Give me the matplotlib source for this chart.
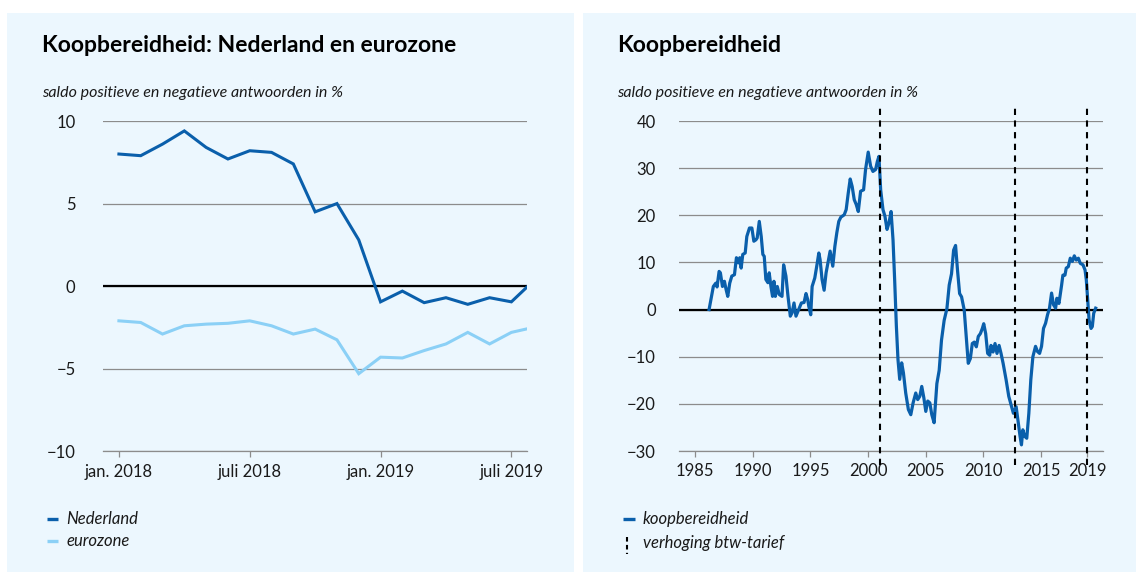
import matplotlib
matplotlib.use('Agg')
import matplotlib.pyplot as plt
from matplotlib.patches import Rectangle
from matplotlib.lines import Line2D

plt.rcParams['font.family'] = ['Lato', 'DejaVu Sans']

W, H = 1136, 572
DARK = '#0a5fab'
LIGHT = '#8bd0f6'
BG = '#ecf7fe'
GRID = '#8c8c8c'
TXT = '#1a1a1a'

# ---------------- data: left chart (monthly, jan 2018 .. aug 2019) ----------------
months = list(range(20))
nederland = [8.0, 7.9, 8.6, 9.4, 8.4, 7.7, 8.2, 8.1, 7.4, 4.5, 5.0, 2.8,
             -0.95, -0.3, -1.0, -0.7, -1.1, -0.7, -0.95, 0.3]
eurozone = [-2.1, -2.2, -2.9, -2.4, -2.3, -2.25, -2.1, -2.4, -2.9, -2.6, -3.25, -5.3,
            -4.3, -4.35, -3.9, -3.5, -2.8, -3.5, -2.8, -2.5]
left_ticks = [0, 6, 12, 18]
left_ticklabels = ['jan. 2018', 'juli 2018', 'jan. 2019', 'juli 2019']
left_yticks = [-10, -5, 0, 5, 10]

# ---------------- data: right chart (koopbereidheid) ----------------
kb_years = [1986.22, 1986.59, 1986.80, 1986.91, 1987.09, 1987.20, 1987.38, 1987.55, 1987.70, 1987.84,
            1988.01, 1988.19, 1988.42, 1988.59, 1988.77, 1988.88, 1989.00, 1989.14, 1989.35, 1989.49,
            1989.72, 1989.93, 1990.10, 1990.28, 1990.39, 1990.57, 1990.74, 1990.88, 1991.00, 1991.14,
            1991.32, 1991.43, 1991.58, 1991.72, 1991.84, 1991.96, 1992.13, 1992.30, 1992.54,
            1992.68, 1992.88, 1993.06, 1993.26, 1993.41, 1993.58, 1993.75, 1993.99, 1994.22, 1994.45,
            1994.62, 1994.77, 1994.86, 1995.03, 1995.15, 1995.38, 1995.55, 1995.73, 1995.84, 1996.01,
            1996.19, 1996.36, 1996.54, 1996.71, 1996.94, 1997.12, 1997.29, 1997.46, 1997.64, 1997.93,
            1998.10, 1998.28, 1998.45, 1998.62, 1998.80, 1998.97,
            1999.15, 1999.35, 1999.61, 1999.78, 2000.01, 2000.22, 2000.42, 2000.65, 2000.80, 2000.94,
            2001.09, 2001.29, 2001.46, 2001.64, 2001.81, 2001.99, 2002.16, 2002.30, 2002.45, 2002.59,
            2002.74, 2002.91, 2003.06, 2003.26, 2003.49, 2003.70, 2003.90, 2004.13, 2004.30, 2004.48,
            2004.65, 2004.83, 2005.00, 2005.17, 2005.35, 2005.52, 2005.72,
            2005.96, 2006.16, 2006.36, 2006.59, 2006.83, 2007.03, 2007.23, 2007.41, 2007.58, 2007.75,
            2007.93, 2008.10, 2008.33, 2008.51, 2008.68, 2008.86, 2009.03, 2009.20, 2009.38, 2009.55,
            2009.73, 2009.90, 2010.02, 2010.19, 2010.36, 2010.54, 2010.65, 2010.83, 2011.00, 2011.17,
            2011.35, 2011.52, 2011.70,
            2011.96, 2012.19, 2012.39, 2012.59, 2012.83, 2013.00, 2013.17, 2013.29, 2013.41, 2013.58,
            2013.75, 2013.93, 2014.10, 2014.28, 2014.51, 2014.68, 2014.86, 2015.03, 2015.20, 2015.38,
            2015.55, 2015.72, 2015.90, 2016.07, 2016.25, 2016.36, 2016.54, 2016.77, 2016.88, 2017.06,
            2017.17, 2017.35, 2017.52, 2017.70, 2017.87, 2018.04, 2018.22, 2018.39, 2018.62, 2018.80,
            2018.91, 2019.03, 2019.15, 2019.32, 2019.43, 2019.55, 2019.72]
kb_values = [0.0, 4.9, 5.6, 4.8, 8.1, 7.8, 4.9, 6.0, 4.2, 2.8,
             5.6, 7.1, 7.4, 11.0, 9.9, 11.0, 8.8, 11.7, 12.0, 15.5,
             17.3, 17.3, 14.5, 14.8, 15.2, 18.7, 15.5, 11.7, 11.3, 6.4,
             5.7, 7.8, 4.9, 2.8, 6.0, 2.8, 4.9, 3.2, 2.8,
             9.5, 7.1, 2.8, -1.4, -0.7, 1.4, -1.4, 0.0, 1.4, 1.5,
             3.4, 2.1, 0.7, -1.1, 4.9, 6.7, 9.2, 12.0, 10.6, 6.4,
             4.1, 7.8, 10.2, 12.4, 9.2, 13.4, 16.3, 18.7, 19.6, 20.1,
             21.2, 24.7, 27.7, 26.1, 23.3, 22.3,
             20.8, 25.1, 25.4, 29.7, 33.4, 30.4, 29.3, 29.7, 31.4, 32.5,
             25.4, 21.2, 19.8, 17.0, 18.4, 20.8, 14.8, 6.4, -3.5, -10.6,
             -14.8, -11.3, -13.4, -17.7, -21.2, -22.3, -19.8, -17.7, -19.1, -18.4,
             -16.3, -18.7, -21.6, -19.4, -19.8, -22.3, -24.0,
             -15.7, -12.9, -6.5, -2.3, 0.2, 5.2, 7.6, 12.6, 13.6, 8.3,
             3.4, 2.7, -0.1, -5.8, -11.4, -10.4, -7.2, -6.9, -7.9, -5.7,
             -5.1, -4.0, -3.0, -5.1, -9.3, -9.7, -7.6, -9.0, -7.2, -9.3,
             -7.6, -9.3, -11.4,
             -14.9, -18.4, -20.2, -22.0, -20.6, -23.7, -26.9, -28.7, -25.5, -26.9,
             -27.3, -22.0, -14.9, -10.0, -7.8, -8.9, -9.3, -7.8, -4.0, -2.9,
             -1.1, 0.3, 3.5, 1.0, 0.3, 2.4, 1.3, 5.2, 7.3, 7.3,
             8.8, 9.1, 10.9, 10.2, 11.4, 10.5, 10.9, 9.8, 9.5, 8.4,
             6.3, 2.0, -2.2, -4.0, -3.6, -0.8, 0.3]
btw_years = [2001.0, 2012.75, 2019.0]
right_xticks = [1985, 1990, 1995, 2000, 2005, 2010, 2015, 2019]
right_yticks = [-30, -20, -10, 0, 10, 20, 30, 40]


def fx(px):
    return px / W


def fy(py):
    return 1 - py / H


fig = plt.figure(figsize=(W / 100, H / 100), dpi=100)
fig.patch.set_facecolor('white')

# panel backgrounds
fig.add_artist(Rectangle((fx(7), fy(572)), fx(574) - fx(7), fy(13) - fy(572),
                         transform=fig.transFigure, color=BG, zorder=-10, lw=0))
fig.add_artist(Rectangle((fx(583), fy(572)), fx(1136) - fx(583), fy(13) - fy(572),
                         transform=fig.transFigure, color=BG, zorder=-10, lw=0))


def style_axes(ax, ypad):
    ax.set_facecolor('none')
    for s in ['top', 'right', 'left']:
        ax.spines[s].set_visible(False)
    ax.spines['bottom'].set_color(GRID)
    ax.spines['bottom'].set_linewidth(0.9)
    ax.grid(axis='y', color=GRID, lw=0.9)
    ax.set_axisbelow(True)
    ax.tick_params(axis='y', length=0, pad=ypad, labelsize=12, labelcolor=TXT)
    ax.tick_params(axis='x', length=4, width=0.9, color=GRID, pad=5, labelsize=12,
                   labelcolor=TXT, direction='out')
    for lbl in ax.get_yticklabels():
        lbl.set_horizontalalignment('right')


# ---------------- left chart ----------------
axL = fig.add_axes([fx(103.3), fy(451.3), fx(527.3) - fx(103.3), fy(121) - fy(451.3)])
axL.set_xlim(-0.716, 18.73)
axL.set_ylim(-10, 10)
axL.set_yticks(left_yticks)
axL.set_xticks(left_ticks)
axL.set_xticklabels(left_ticklabels)
style_axes(axL, 20)
axL.axhline(0, color='black', lw=1.6, zorder=2)
axL.plot(months, eurozone, color=LIGHT, lw=2.2, zorder=3, solid_joinstyle='miter')
axL.plot(months, nederland, color=DARK, lw=2.2, zorder=4, solid_joinstyle='miter')

# ---------------- right chart ----------------
axR = fig.add_axes([fx(679.3), fy(451), fx(1102.7) - fx(679.3), fy(121) - fy(451)])
axR.set_xlim(1983.64, 2020.33)
axR.set_ylim(-30, 40)
axR.set_yticks(right_yticks)
axR.set_xticks(right_xticks)
style_axes(axR, 17)
axR.axhline(0, color='black', lw=1.6, zorder=2)
axR.plot(kb_years, kb_values, color=DARK, lw=2.3, zorder=4)
for yr in btw_years:
    axR.plot([yr, yr], [-32.97, 42.75], color='black', lw=1.5,
             linestyle=(0, (3.0, 2.6)), clip_on=False, zorder=5)

# ---------------- titles ----------------
fig.text(fx(41.8), fy(52), 'Koopbereidheid: Nederland en eurozone', fontsize=16.5,
         fontweight='bold', color='black', va='baseline', ha='left')
fig.text(fx(41.8), fy(96.5), 'saldo positieve en negatieve antwoorden in %', fontsize=11.5,
         style='italic', color=TXT, va='baseline', ha='left')
fig.text(fx(617), fy(52), 'Koopbereidheid', fontsize=16.5,
         fontweight='bold', color='black', va='baseline', ha='left')
fig.text(fx(617), fy(96.5), 'saldo positieve en negatieve antwoorden in %', fontsize=11.5,
         style='italic', color=TXT, va='baseline', ha='left')

# ---------------- legends ----------------
def legend_line(x0, x1, y, color):
    fig.add_artist(Line2D([fx(x0), fx(x1)], [fy(y), fy(y)], transform=fig.transFigure,
                          color=color, lw=2.4, solid_capstyle='butt'))


legend_line(47.3, 58.2, 519, DARK)
fig.text(fx(66.5), fy(519), 'Nederland', fontsize=12, style='italic', color=TXT, va='center')
legend_line(47.3, 58.2, 541, LIGHT)
fig.text(fx(66.5), fy(541), 'eurozone', fontsize=12, style='italic', color=TXT, va='center')

legend_line(622.5, 635, 519, DARK)
fig.text(fx(642.8), fy(519), 'koopbereidheid', fontsize=12, style='italic', color=TXT, va='center')
fig.add_artist(Line2D([fx(627), fx(627)], [fy(537), fy(554)], transform=fig.transFigure,
                      color='black', lw=1.5, linestyle=(0, (2.2, 1.6))))
fig.text(fx(642.8), fy(543), 'verhoging btw-tarief', fontsize=12, style='italic', color=TXT,
         va='center')

fig.savefig('out.png', dpi=100)
